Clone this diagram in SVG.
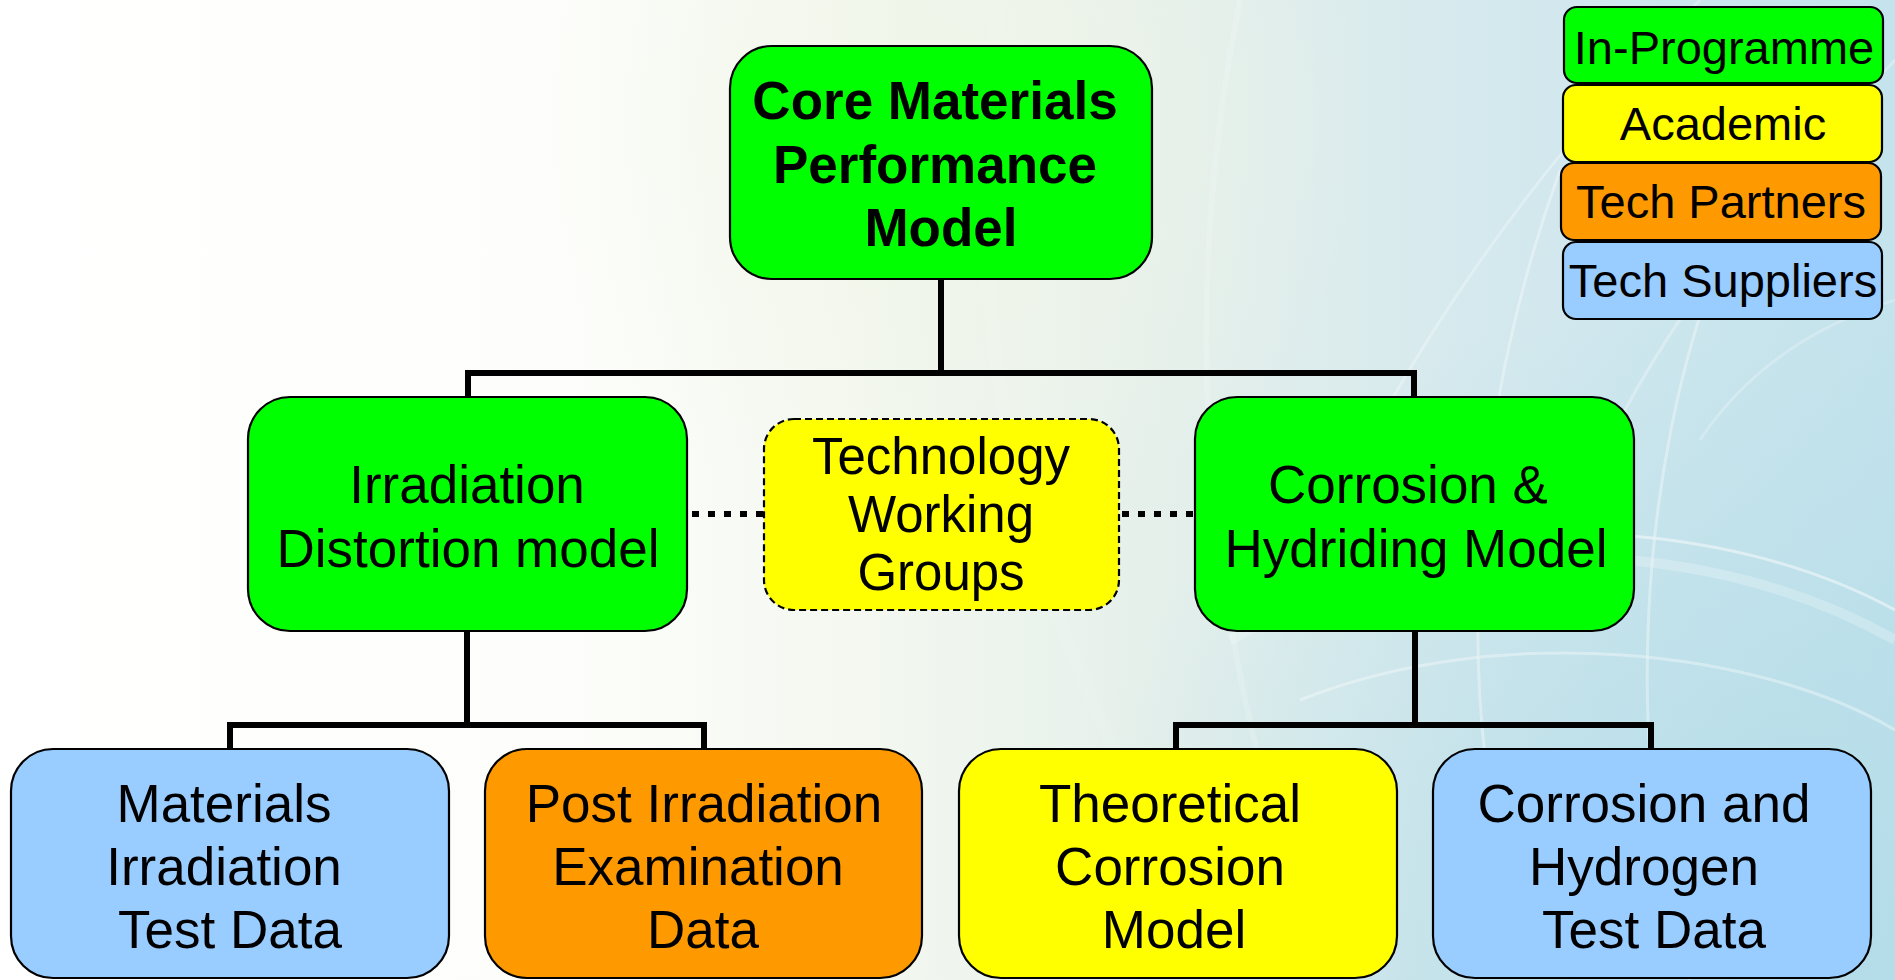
<svg xmlns="http://www.w3.org/2000/svg" width="1895" height="980" viewBox="0 0 1895 980">
  <defs>
    <linearGradient id="bg" x1="0" y1="0" x2="1" y2="0">
      <stop offset="0" stop-color="#ffffff"/>
      <stop offset="0.3" stop-color="#fdfefb"/>
      <stop offset="0.45" stop-color="#f4f8f0"/>
      <stop offset="0.6" stop-color="#e6f0eb"/>
      <stop offset="0.78" stop-color="#d5e9ee"/>
      <stop offset="1" stop-color="#c4e3ec"/>
    </linearGradient>
    <radialGradient id="glow" cx="1750" cy="980" r="700" gradientUnits="userSpaceOnUse">
      <stop offset="0" stop-color="#a9d8e6" stop-opacity="0.7"/>
      <stop offset="1" stop-color="#a9d8e6" stop-opacity="0"/>
    </radialGradient>
    <radialGradient id="warm" cx="950" cy="120" r="420" gradientUnits="userSpaceOnUse">
      <stop offset="0" stop-color="#f0f5e6" stop-opacity="0.7"/>
      <stop offset="1" stop-color="#f0f5e6" stop-opacity="0"/>
    </radialGradient>
    <style>
      .box { stroke: #000; stroke-width: 2.2; }
      .green { fill: #00ff00; }
      .yellow { fill: #ffff00; }
      .orange { fill: #ff9900; }
      .blue { fill: #99ccff; }
      .dashed { stroke-dasharray: 7 4; }
      .wire { fill: none; stroke: #000; stroke-width: 6; stroke-linejoin: miter; stroke-linecap: butt; }
      .dots { fill: none; stroke: #000; stroke-width: 6; stroke-dasharray: 7 9; }
      .label { font-family: "Liberation Sans", Arial, sans-serif; font-size: 53px; fill: #000; text-anchor: middle; }
      .bold { font-weight: bold; }
      .twg { font-size: 51px; }
      .legend { font-size: 47px; }
      .swoosh { fill: none; stroke: #ffffff; }
    </style>
  </defs>

  <!-- backdrop -->
  <rect width="1895" height="980" fill="url(#bg)"/>
  <rect width="1895" height="980" fill="url(#warm)"/>
  <rect width="1895" height="980" fill="url(#glow)"/>
  <g id="backdrop-swooshes" opacity="0.6">
    <path class="swoosh" stroke-width="10" stroke-opacity="0.4" d="M1230,640 C1450,520 1720,540 1895,640"/>
    <path class="swoosh" stroke-width="3" stroke-opacity="0.8" d="M1240,600 C1470,500 1730,520 1895,610"/>
    <path class="swoosh" stroke-width="3" stroke-opacity="0.6" d="M1300,700 C1500,620 1760,650 1895,730"/>
    <path class="swoosh" stroke-width="3" stroke-opacity="0.6" d="M1520,920 C1450,700 1470,420 1560,170"/>
    <path class="swoosh" stroke-width="3" stroke-opacity="0.6" d="M1690,980 C1620,760 1640,460 1720,260"/>
    <path class="swoosh" stroke-width="3" stroke-opacity="0.5" d="M1700,0 C1580,120 1470,260 1380,420"/>
    <path class="swoosh" stroke-width="3" stroke-opacity="0.5" d="M1895,60 C1760,200 1660,330 1600,460"/>
    <path class="swoosh" stroke-width="14" stroke-opacity="0.15" d="M1000,0 C960,250 1000,520 1120,760"/>
    <path class="swoosh" stroke-width="6" stroke-opacity="0.25" d="M1240,0 C1180,300 1200,600 1300,900"/>
    <path class="swoosh" stroke-width="3" stroke-opacity="0.4" d="M1895,300 C1800,330 1740,380 1700,440"/>
  </g>

  <!-- connectors -->
  <g id="connectors">
    <path class="wire" d="M941,279 V373"/>
    <path class="wire" d="M468,397 V373 H1414 V397"/>
    <path class="wire" d="M467,631 V725"/>
    <path class="wire" d="M230,749 V725 H704 V749"/>
    <path class="wire" d="M1415,631 V725"/>
    <path class="wire" d="M1176,749 V725 H1651 V749"/>
    <path class="dots" d="M692,514 H764"/>
    <path class="dots" d="M1122,514 H1195"/>
  </g>

  <!-- top node -->
  <g id="core-materials">
    <rect class="box green" x="730" y="46" width="422" height="233" rx="42"/>
    <text class="label bold" x="935" y="119">Core Materials</text>
    <text class="label bold" x="935" y="183">Performance</text>
    <text class="label bold" x="941" y="246">Model</text>
  </g>

  <!-- middle row -->
  <g id="irradiation-distortion">
    <rect class="box green" x="248" y="397" width="439" height="234" rx="42"/>
    <text class="label" x="467" y="503">Irradiation</text>
    <text class="label" x="468" y="567">Distortion model</text>
  </g>

  <g id="technology-working-groups">
    <rect class="box yellow dashed" x="764" y="419" width="355" height="191" rx="30"/>
    <text class="label twg" x="941" y="474">Technology</text>
    <text class="label twg" x="941" y="532">Working</text>
    <text class="label twg" x="941" y="590">Groups</text>
  </g>

  <g id="corrosion-hydriding">
    <rect class="box green" x="1195" y="397" width="439" height="234" rx="42"/>
    <text class="label" x="1408" y="503">Corrosion &amp;</text>
    <text class="label" x="1416" y="567">Hydriding Model</text>
  </g>

  <!-- bottom row -->
  <g id="materials-irradiation-test-data">
    <rect class="box blue" x="11" y="749" width="438" height="229" rx="42"/>
    <text class="label" x="224" y="822">Materials</text>
    <text class="label" x="224" y="885">Irradiation</text>
    <text class="label" x="230" y="948">Test Data</text>
  </g>

  <g id="post-irradiation-examination">
    <rect class="box orange" x="485" y="749" width="437" height="229" rx="42"/>
    <text class="label" x="704" y="822">Post Irradiation</text>
    <text class="label" x="698" y="885">Examination</text>
    <text class="label" x="703" y="948">Data</text>
  </g>

  <g id="theoretical-corrosion-model">
    <rect class="box yellow" x="959" y="749" width="438" height="229" rx="42"/>
    <text class="label" x="1170" y="822">Theoretical</text>
    <text class="label" x="1170" y="885">Corrosion</text>
    <text class="label" x="1174" y="948">Model</text>
  </g>

  <g id="corrosion-hydrogen-test-data">
    <rect class="box blue" x="1433" y="749" width="438" height="229" rx="42"/>
    <text class="label" x="1644" y="822">Corrosion and</text>
    <text class="label" x="1644" y="885">Hydrogen</text>
    <text class="label" x="1654" y="948">Test Data</text>
  </g>

  <!-- key -->
  <g id="legend-in-programme">
    <rect class="box green" x="1564" y="7" width="319" height="76" rx="13"/>
    <text class="label legend" x="1724" y="64">In-Programme</text>
  </g>
  <g id="legend-academic">
    <rect class="box yellow" x="1563" y="85" width="319" height="77" rx="13"/>
    <text class="label legend" x="1723" y="140">Academic</text>
  </g>
  <g id="legend-tech-partners">
    <rect class="box orange" x="1561" y="163" width="320" height="77" rx="13"/>
    <text class="label legend" x="1721" y="218">Tech Partners</text>
  </g>
  <g id="legend-tech-suppliers">
    <rect class="box blue" x="1563" y="242" width="319" height="77" rx="13"/>
    <text class="label legend" x="1723" y="297">Tech Suppliers</text>
  </g>
</svg>
